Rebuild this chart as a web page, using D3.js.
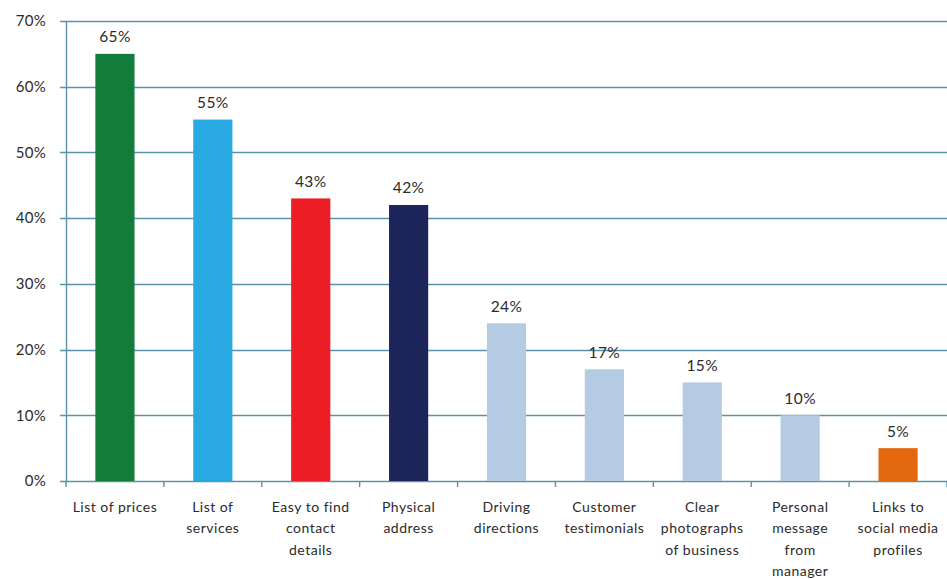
<!DOCTYPE html>
<html>
<head>
<meta charset="utf-8">
<script src="https://cdn.jsdelivr.net/npm/d3@7"></script>
<style>
  html, body { margin: 0; padding: 0; background: #ffffff; }
  svg { display: block; }
  text { font-family: Lato, "Open Sans", sans-serif; fill: #2b2b2b; }
</style>
</head>
<body>
<svg id="chart" width="947" height="579"></svg>
<script>
// Website features customers look for (share of respondents)
const categories = [
  ["List of prices"],
  ["List of", "services"],
  ["Easy to find", "contact", "details"],
  ["Physical", "address"],
  ["Driving", "directions"],
  ["Customer", "testimonials"],
  ["Clear", "photographs", "of business"],
  ["Personal", "message", "from", "manager"],
  ["Links to", "social media", "profiles"]
];
const values = [65, 55, 43, 42, 24, 17, 15, 10, 5];
const barColors = ["#127d3a", "#28a9e1", "#ec1d25", "#1c2459", "#b5cae3", "#b5cae3", "#b5cae3", "#b5cae3", "#e3680f"];
const yTicks = [0, 10, 20, 30, 40, 50, 60, 70];

const svg = d3.select("#chart");
const margin = { left: 66, right: 0, top: 21, bottom: 98 };
const W = 947, H = 579;

const x = d3.scaleBand()
  .domain(d3.range(categories.length))
  .range([margin.left, W - margin.right])
  .paddingInner(0.6)
  .paddingOuter(0.3);

const y = d3.scaleLinear()
  .domain([0, 70])
  .range([H - margin.bottom, margin.top]);

const gridColor = "#5b92a9";

// horizontal gridlines
svg.append("g")
  .selectAll("line")
  .data(yTicks)
  .join("line")
  .attr("x1", margin.left - 6)
  .attr("x2", W)
  .attr("y1", d => Math.round(y(d)) + 0.5)
  .attr("y2", d => Math.round(y(d)) + 0.5)
  .attr("stroke", gridColor)
  .attr("stroke-width", 1.4);

// y axis labels
svg.append("g")
  .selectAll("text")
  .data(yTicks)
  .join("text")
  .attr("x", 46)
  .attr("y", d => y(d))
  .attr("dy", "0.35em")
  .attr("text-anchor", "end")
  .style("font-size", "15px")
  .style("letter-spacing", "0.3px")
  .text(d => d + "%");

// y axis line
svg.append("line")
  .attr("x1", margin.left + 0.5).attr("x2", margin.left + 0.5)
  .attr("y1", y(70)).attr("y2", y(0))
  .attr("stroke", gridColor).attr("stroke-width", 1.4);

// category boundary ticks below the baseline
const step = x.step();
svg.append("g")
  .selectAll("line")
  .data(d3.range(categories.length + 1))
  .join("line")
  .attr("x1", i => margin.left + i * step)
  .attr("x2", i => margin.left + i * step)
  .attr("y1", y(0))
  .attr("y2", y(0) + 6)
  .attr("stroke", gridColor)
  .attr("stroke-width", 1.4);

// bars
svg.append("g")
  .selectAll("rect")
  .data(values)
  .join("rect")
  .attr("x", (d, i) => x(i))
  .attr("width", x.bandwidth())
  .attr("y", d => y(d))
  .attr("height", d => y(0) - y(d))
  .attr("fill", (d, i) => barColors[i]);

// value labels
svg.append("g")
  .selectAll("text")
  .data(values)
  .join("text")
  .attr("x", (d, i) => x(i) + x.bandwidth() / 2)
  .attr("y", d => y(d) - 17)
  .attr("dy", "0.35em")
  .attr("text-anchor", "middle")
  .style("font-size", "15.5px")
  .style("letter-spacing", "0.4px")
  .text(d => d + "%");

// category labels (multi-line)
const lab = svg.append("g")
  .selectAll("text")
  .data(categories)
  .join("text")
  .attr("text-anchor", "middle")
  .style("font-size", "14px")
  .style("letter-spacing", "0.5px")
  .attr("x", (d, i) => x(i) + x.bandwidth() / 2)
  .attr("y", 507);
lab.selectAll("tspan")
  .data(d => d)
  .join("tspan")
  .attr("x", function () { return d3.select(this.parentNode).attr("x"); })
  .attr("dy", (d, j) => j === 0 ? "0.35em" : "21.5px")
  .text(d => d);
</script>
</body>
</html>
